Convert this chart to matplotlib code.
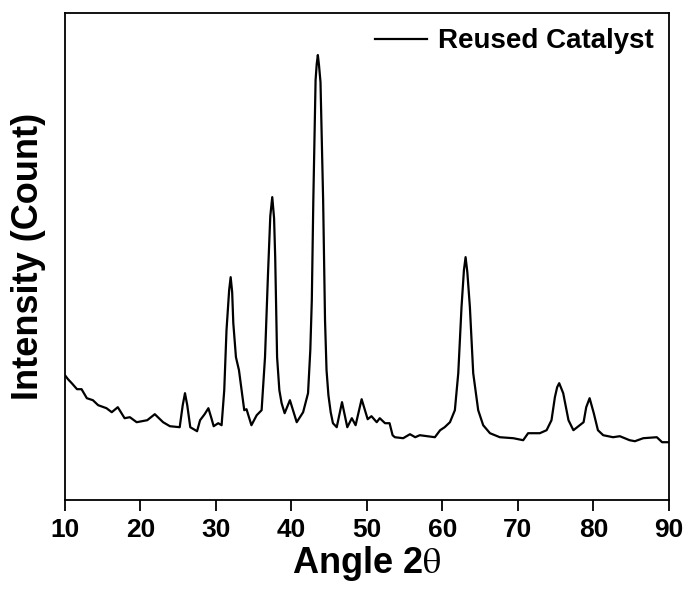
import matplotlib
matplotlib.use("Agg")
import matplotlib.pyplot as plt

plt.rcParams['font.family'] = ['Liberation Sans', 'DejaVu Sans']
plt.rcParams['mathtext.fontset'] = 'stix'

# diffraction angle (2 theta, degrees)
angle = [10.0, 10.4, 10.9, 11.6, 12.2, 12.9, 13.7, 14.4, 15.5, 16.2,
         17.0, 17.9, 18.6, 19.5, 20.9, 21.9, 23.0, 23.9, 25.2, 25.6,
         25.9, 26.2, 26.6, 27.5, 27.9, 28.5, 29.0, 29.4, 29.7, 30.3,
         30.75, 31.1, 31.4, 31.75, 31.95, 32.15, 32.3, 32.65, 33.05, 33.4,
         33.75, 34.05, 34.7, 35.4, 36.05, 36.5, 36.9, 37.2, 37.46, 37.7,
         37.85, 38.1, 38.4, 38.7, 39.1, 39.8, 40.7, 41.55, 42.2, 42.5,
         42.7, 42.9, 43.2, 43.35, 43.5, 43.65, 43.85, 44.2, 44.45, 44.65,
         44.9, 45.2, 45.5, 46.0, 46.7, 47.4, 48.0, 48.5, 49.3, 50.1,
         50.6, 51.3, 51.7, 52.4, 53.0, 53.4, 53.7, 54.8, 55.7, 56.4,
         57.0, 59.0, 59.7, 60.3, 61.0, 61.65, 62.1, 62.53, 62.85, 63.07,
         63.3, 63.64, 64.08, 64.74, 65.4, 66.3, 67.6, 69.4, 70.7, 71.35,
         72.9, 73.8, 74.45, 74.9, 75.2, 75.47, 76.0, 76.7, 77.35, 78.2,
         78.7, 79.05, 79.5, 80.05, 80.6, 81.3, 82.6, 83.5, 84.8, 85.5,
         86.6, 88.4, 89.1, 90.0]

# intensity in counts (arbitrary scale)
counts = [125, 121, 117, 111, 111, 102, 100, 95, 92, 88,
          93, 82, 83, 78, 80, 86, 78, 74, 73, 95,
          107, 95, 73, 69, 80, 86, 92, 82, 74, 77,
          75, 110, 170, 210, 223, 208, 177, 143, 130, 110,
          90, 91, 75, 85, 90, 143, 227, 284, 303, 282,
          243, 143, 110, 97, 87, 100, 78, 88, 107, 150,
          200, 300, 420, 436, 445, 435, 418, 300, 180, 130,
          105, 88, 77, 73, 98, 73, 82, 75, 101, 81,
          84, 78, 82, 77, 77, 65, 63, 62, 66, 63,
          65, 63, 70, 73, 78, 90, 127, 193, 230, 243,
          228, 193, 127, 90, 75, 67, 63, 62, 60, 67,
          67, 70, 80, 103, 113, 117, 107, 80, 70, 75,
          78, 93, 102, 87, 70, 65, 63, 64, 60, 59,
          62, 63, 58, 58]

fig = plt.figure(figsize=(6.91, 5.92), dpi=100)
ax = fig.add_axes([0.094, 0.155, 0.874, 0.823])

ax.plot(angle, counts, color='black', linewidth=1.6, label='Reused Catalyst')

ax.set_xlim(10, 90)
ax.set_ylim(0, 487)
ax.set_xticks(range(10, 91, 10))
ax.set_yticks([])
ax.tick_params(axis='x', direction='out', length=8, width=1.3,
               labelsize=19, pad=5)
for lbl in ax.get_xticklabels():
    lbl.set_fontweight('bold')
for sp in ax.spines.values():
    sp.set_linewidth(1.3)

ax.set_xlabel(r'Angle 2$\mathrm{\theta}$', fontsize=26, fontweight='bold', labelpad=1)
ax.set_ylabel('Intensity (Count)', fontsize=26, fontweight='bold', labelpad=14)

ax.legend(loc='upper right', frameon=False, handlelength=1.85, handletextpad=0.4,
          prop={'size': 20, 'weight': 'bold'}, borderaxespad=0.15)

fig.savefig('out.png', dpi=100)
